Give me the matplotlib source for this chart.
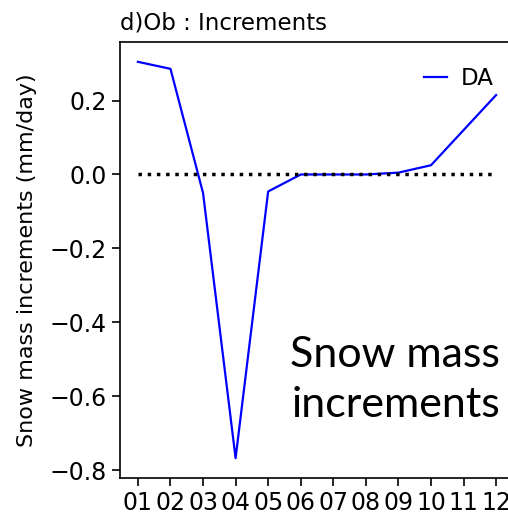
import matplotlib
matplotlib.use("Agg")
import matplotlib.pyplot as plt

months = ['01', '02', '03', '04', '05', '06', '07', '08', '09', '10', '11', '12']
da = [0.305, 0.286, -0.05, -0.768, -0.046, 0.0, 0.0, 0.0, 0.005, 0.025, 0.12, 0.215]
zero = [0.0] * len(months)

x = list(range(1, len(months) + 1))

fig = plt.figure(figsize=(5.08, 5.18), dpi=100)
ax = fig.add_axes([120 / 508, 40 / 518, 394 / 508, 436 / 518])

ax.plot(x, da, color='blue', lw=1.6, label='DA')
ax.plot(x, zero, color='black', lw=2.5, ls=':')

ax.set_xticks(x)
ax.set_xticklabels(months)
ax.set_yticks([0.2, 0.0, -0.2, -0.4, -0.6, -0.8])
ax.tick_params(labelsize=17, length=6, width=1.2)
for s in ax.spines.values():
    s.set_linewidth(1.2)
ax.set_ylabel('Snow mass increments (mm/day)', fontsize=16, labelpad=9)
ax.set_title('d)Ob : Increments', fontsize=16.5, loc='left', pad=9)
ax.legend(loc='upper right', frameon=False, fontsize=16.5, handlelength=1.0,
          handletextpad=0.6, bbox_to_anchor=(1.0, 0.99))

fig.text(290 / 508, 1 - 367 / 518, 'Snow mass', fontsize=31, family='Lato', va='baseline')
fig.text(292 / 508, 1 - 417 / 518, 'increments', fontsize=31, family='Lato', va='baseline')

fig.savefig('out.png', dpi=100)
